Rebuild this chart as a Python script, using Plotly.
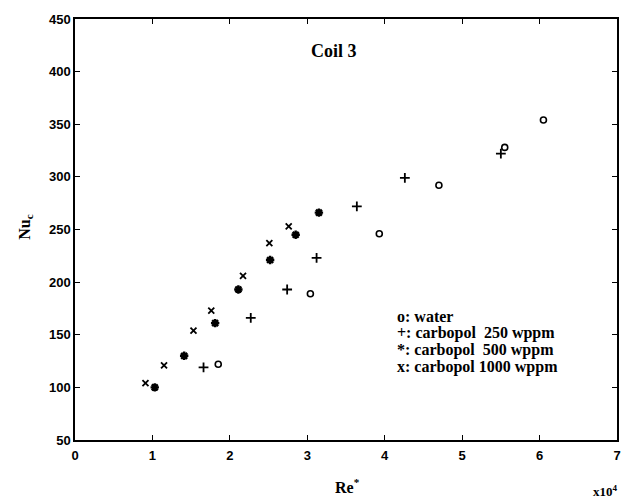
import plotly.graph_objects as go

# Re* values (x10^4) and Nu_c values
water_re = [1.85, 3.04, 3.93, 4.70, 5.55, 6.05]
water_nu = [122, 189, 246, 292, 328, 354]

c250_re = [1.66, 2.27, 2.74, 3.12, 3.64, 4.26, 5.50]
c250_nu = [119, 166, 193, 223, 272, 299, 322]

c500_re = [1.03, 1.41, 1.81, 2.11, 2.52, 2.85, 3.15]
c500_nu = [100, 130, 161, 193, 221, 245, 266]

c1000_re = [0.91, 1.15, 1.53, 1.76, 2.17, 2.51, 2.76]
c1000_nu = [104, 121, 154, 173, 206, 237, 253]

x_ticks = [0, 1, 2, 3, 4, 5, 6, 7]
y_ticks = [50, 100, 150, 200, 250, 300, 350, 400, 450]

legend_lines = ["o: water", "+: carbopol  250 wppm", "*: carbopol  500 wppm", "x: carbopol 1000 wppm"]

W, H = 633, 503
L, R, T, B = 75, 14, 16, 63
pw, ph = W - L - R, H - T - B

def px(xp):
    return (xp - L) / pw

def py(yp):
    return (H - B - yp) / ph

fig = go.Figure()
fig.add_trace(go.Scatter(x=water_re, y=water_nu, mode="markers", name="water",
                         marker=dict(symbol="circle-open", size=6, color="black", line=dict(width=1.6, color="black"))))
fig.add_trace(go.Scatter(x=c250_re, y=c250_nu, mode="markers", name="carbopol 250 wppm",
                         marker=dict(symbol="cross-thin-open", size=7, color="black", line=dict(width=1.8, color="black"))))
fig.add_trace(go.Scatter(x=c500_re, y=c500_nu, mode="markers", name="carbopol 500 wppm",
                         marker=dict(symbol="asterisk-open", size=7, color="black", line=dict(width=2.4, color="black"))))
fig.add_trace(go.Scatter(x=c1000_re, y=c1000_nu, mode="markers", name="carbopol 1000 wppm",
                         marker=dict(symbol="x-thin-open", size=6, color="black", line=dict(width=1.8, color="black"))))

serif = "Liberation Serif"
tickfont = dict(family="Liberation Sans", size=13, color="black", weight="bold")

axis_common = dict(showgrid=False, zeroline=False, showline=True, linecolor="black", linewidth=1.5,
                   mirror="ticks", ticks="inside", ticklen=5, tickwidth=1, tickcolor="black",
                   tickfont=tickfont)

fig.update_xaxes(range=[0, 7], tickvals=x_ticks, ticktext=[str(v) for v in x_ticks],
                 ticklabelstandoff=3, **axis_common)
fig.update_yaxes(range=[50, 450], tickvals=y_ticks, ticktext=[str(v) for v in y_ticks], **axis_common)

annotations = [
    dict(text="<b>Coil 3</b>", x=px(335), y=py(48), xanchor="center", yanchor="middle",
         font=dict(family=serif, size=18, color="black")),
    dict(text="<b>Re<sup>*</sup></b>", x=px(349), y=py(486), xanchor="center", yanchor="middle",
         font=dict(family=serif, size=16, color="black")),
    dict(text="<b>Nu<sub>c</sub></b>", x=px(25), y=py(226), xanchor="center", yanchor="middle",
         textangle=-90, font=dict(family=serif, size=16, color="black")),
    dict(text="<b>x10<sup>4</sup></b>", x=px(607), y=py(491), xanchor="center", yanchor="middle",
         font=dict(family=serif, size=13, color="black")),
]
for i, line in enumerate(legend_lines):
    annotations.append(dict(text="<b>" + line.replace("  ", "&nbsp; ") + "</b>", x=px(396), y=py(316 + 16.7 * i),
                            xanchor="left", yanchor="middle",
                            font=dict(family=serif, size=16, color="black")))
for a in annotations:
    a.update(xref="paper", yref="paper", showarrow=False)

fig.update_layout(width=W, height=H, margin=dict(l=L, r=R, t=T, b=B),
                  paper_bgcolor="white", plot_bgcolor="white", showlegend=False,
                  annotations=annotations)

fig.write_html("out.html")
